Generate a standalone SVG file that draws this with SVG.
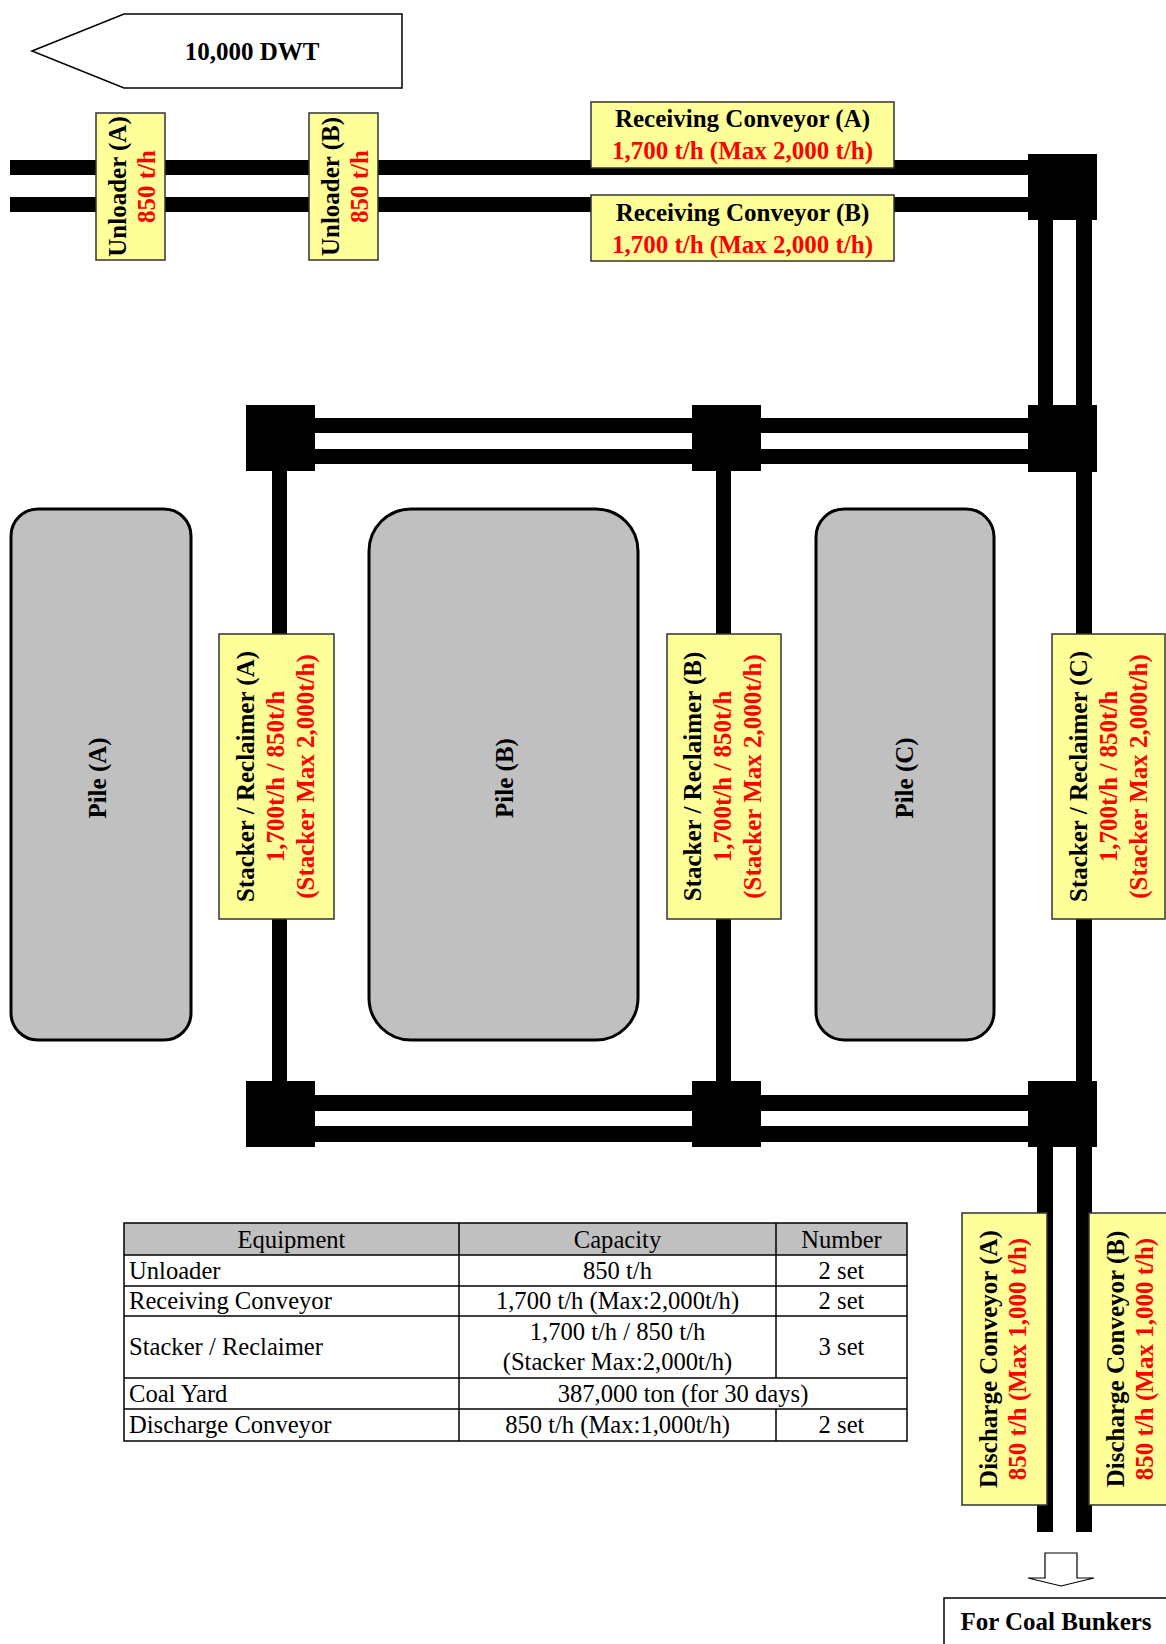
<svg xmlns="http://www.w3.org/2000/svg" width="1166" height="1644" viewBox="0 0 1166 1644">
<style>
.bar{fill:#000}
.lbl{fill:#ffff99;stroke:#333;stroke-width:1.5}
.pile{fill:#c0c0c0;stroke:#000;stroke-width:3}
.b{font-family:"Liberation Serif","Times New Roman",serif;font-weight:bold;font-size:25px;text-anchor:middle}
.k{fill:#000}
.r{fill:#ff0000}
.t{font-family:"Liberation Serif","Times New Roman",serif;font-size:24.6px;fill:#000}
.c{text-anchor:middle}
.grid{stroke:#000;stroke-width:1.5;fill:none}
</style>
<rect width="1166" height="1644" fill="#fff"/>

<g id="ship">
<polygon points="32,51 124,14 402,14 402,88 124,88" fill="#fff" stroke="#000" stroke-width="1.5"/>
<text class="b k" x="252" y="60">10,000 DWT</text>
</g>

<g id="connectors">
<rect class="bar" x="10" y="160" width="1018" height="15"/>
<rect class="bar" x="10" y="197" width="1018" height="15"/>
<rect class="bar" x="1038" y="220" width="15" height="185"/>
<rect class="bar" x="1076" y="220" width="16" height="185"/>
<rect class="bar" x="315" y="418" width="713" height="15"/>
<rect class="bar" x="315" y="449" width="713" height="15"/>
<rect class="bar" x="272" y="471" width="15" height="610"/>
<rect class="bar" x="716" y="471" width="15" height="610"/>
<rect class="bar" x="1076" y="472" width="16" height="609"/>
<rect class="bar" x="315" y="1095" width="713" height="16"/>
<rect class="bar" x="315" y="1126" width="713" height="16"/>
<rect class="bar" x="1037" y="1147" width="16" height="385"/>
<rect class="bar" x="1076" y="1147" width="16" height="385"/>
</g>

<g id="junctions">
<rect class="bar" x="1028" y="154" width="69" height="66"/>
<rect class="bar" x="246" y="405" width="69" height="66"/>
<rect class="bar" x="692" y="405" width="69" height="66"/>
<rect class="bar" x="1028" y="405" width="69" height="67"/>
<rect class="bar" x="246" y="1081" width="69" height="66"/>
<rect class="bar" x="692" y="1081" width="69" height="66"/>
<rect class="bar" x="1028" y="1081" width="69" height="66"/>
</g>

<g id="unloader-a">
<rect class="lbl" x="96" y="113" width="69" height="147"/>
<g transform="translate(130.5,186.5) rotate(-90)">
<text class="b k" x="0" y="-5">Unloader (A)</text>
<text class="b r" x="0" y="24">850 t/h</text>
</g>
</g>

<g id="unloader-b">
<rect class="lbl" x="309" y="113" width="69" height="147"/>
<g transform="translate(343.5,186.5) rotate(-90)">
<text class="b k" x="0" y="-5">Unloader (B)</text>
<text class="b r" x="0" y="24">850 t/h</text>
</g>
</g>

<g id="receiving-a">
<rect class="lbl" x="591" y="102" width="303" height="66"/>
<text class="b k" x="742.5" y="127">Receiving Conveyor (A)</text>
<text class="b r" x="742.5" y="159">1,700 t/h (Max 2,000 t/h)</text>
</g>

<g id="receiving-b">
<rect class="lbl" x="591" y="195" width="303" height="66"/>
<text class="b k" x="742.5" y="221">Receiving Conveyor (B)</text>
<text class="b r" x="742.5" y="253">1,700 t/h (Max 2,000 t/h)</text>
</g>

<g id="pile-a">
<rect class="pile" x="11" y="509" width="180" height="531" rx="27"/>
<text class="b k" transform="translate(98,778) rotate(-90)" x="0" y="8">Pile (A)</text>
</g>
<g id="pile-b">
<rect class="pile" x="369" y="509" width="269" height="531" rx="42"/>
<text class="b k" transform="translate(505,778) rotate(-90)" x="0" y="8">Pile (B)</text>
</g>
<g id="pile-c">
<rect class="pile" x="816" y="509" width="178" height="531" rx="28"/>
<text class="b k" transform="translate(905,778) rotate(-90)" x="0" y="8">Pile (C)</text>
</g>

<g id="stacker-a">
<rect class="lbl" x="219" y="634" width="115" height="285"/>
<g transform="translate(276.5,776.5) rotate(-90)">
<text class="b k" y="-23">Stacker / Reclaimer (A)</text>
<text class="b r" y="7">1,700t/h / 850t/h</text>
<text class="b r" y="37">(Stacker Max 2,000t/h)</text>
</g>
</g>

<g id="stacker-b">
<rect class="lbl" x="667" y="634" width="114" height="285"/>
<g transform="translate(724,776.5) rotate(-90)">
<text class="b k" y="-23">Stacker / Reclaimer (B)</text>
<text class="b r" y="7">1,700t/h / 850t/h</text>
<text class="b r" y="37">(Stacker Max 2,000t/h)</text>
</g>
</g>

<g id="stacker-c">
<rect class="lbl" x="1052" y="634" width="113" height="285"/>
<g transform="translate(1109.5,776.5) rotate(-90)">
<text class="b k" y="-23">Stacker / Reclaimer (C)</text>
<text class="b r" y="7">1,700t/h / 850t/h</text>
<text class="b r" y="37">(Stacker Max 2,000t/h)</text>
</g>
</g>

<g id="discharge-a">
<rect class="lbl" x="962" y="1213" width="85" height="292"/>
<g transform="translate(1004.5,1359) rotate(-90)">
<text class="b k" y="-7.5">Discharge Conveyor (A)</text>
<text class="b r" y="21.5">850 t/h (Max 1,000 t/h)</text>
</g>
</g>

<g id="discharge-b">
<rect class="lbl" x="1089" y="1213" width="85" height="292"/>
<g transform="translate(1131.5,1359) rotate(-90)">
<text class="b k" y="-7.5">Discharge Conveyor (B)</text>
<text class="b r" y="21.5">850 t/h (Max 1,000 t/h)</text>
</g>
</g>

<g id="to-bunkers">
<polygon points="1045,1553 1077,1553 1077,1578 1094,1578 1061,1586 1028,1578 1045,1578" fill="#fff" stroke="#000" stroke-width="1.2"/>
<rect x="944" y="1598" width="240" height="60" fill="#fff" stroke="#000" stroke-width="1.5"/>
<text class="b k" x="1056" y="1630">For Coal Bunkers</text>
</g>

<g id="table">
<rect x="124" y="1223" width="783" height="32" fill="#c0c0c0"/>
<rect class="grid" x="124" y="1223" width="783" height="218" stroke-width="2"/>
<line class="grid" x1="124" y1="1255" x2="907" y2="1255"/>
<line class="grid" x1="124" y1="1286" x2="907" y2="1286"/>
<line class="grid" x1="124" y1="1316" x2="907" y2="1316"/>
<line class="grid" x1="124" y1="1378" x2="907" y2="1378"/>
<line class="grid" x1="124" y1="1409" x2="907" y2="1409"/>
<line class="grid" x1="459" y1="1223" x2="459" y2="1441"/>
<line class="grid" x1="776" y1="1223" x2="776" y2="1378"/>
<line class="grid" x1="776" y1="1409" x2="776" y2="1441"/>
<text class="t c" x="291.5" y="1248">Equipment</text>
<text class="t c" x="617.5" y="1248">Capacity</text>
<text class="t c" x="841.5" y="1248">Number</text>
<text class="t" x="129" y="1279">Unloader</text>
<text class="t c" x="617.5" y="1279">850 t/h</text>
<text class="t c" x="841.5" y="1279">2 set</text>
<text class="t" x="129" y="1309">Receiving Conveyor</text>
<text class="t c" x="617.5" y="1309">1,700 t/h (Max:2,000t/h)</text>
<text class="t c" x="841.5" y="1309">2 set</text>
<text class="t" x="129" y="1355">Stacker / Reclaimer</text>
<text class="t c" x="617.5" y="1340">1,700 t/h / 850 t/h</text>
<text class="t c" x="617.5" y="1370">(Stacker Max:2,000t/h)</text>
<text class="t c" x="841.5" y="1355">3 set</text>
<text class="t" x="129" y="1402">Coal Yard</text>
<text class="t c" x="683" y="1402">387,000 ton (for 30 days)</text>
<text class="t" x="129" y="1433">Discharge Conveyor</text>
<text class="t c" x="617.5" y="1433">850 t/h (Max:1,000t/h)</text>
<text class="t c" x="841.5" y="1433">2 set</text>
</g>
</svg>
